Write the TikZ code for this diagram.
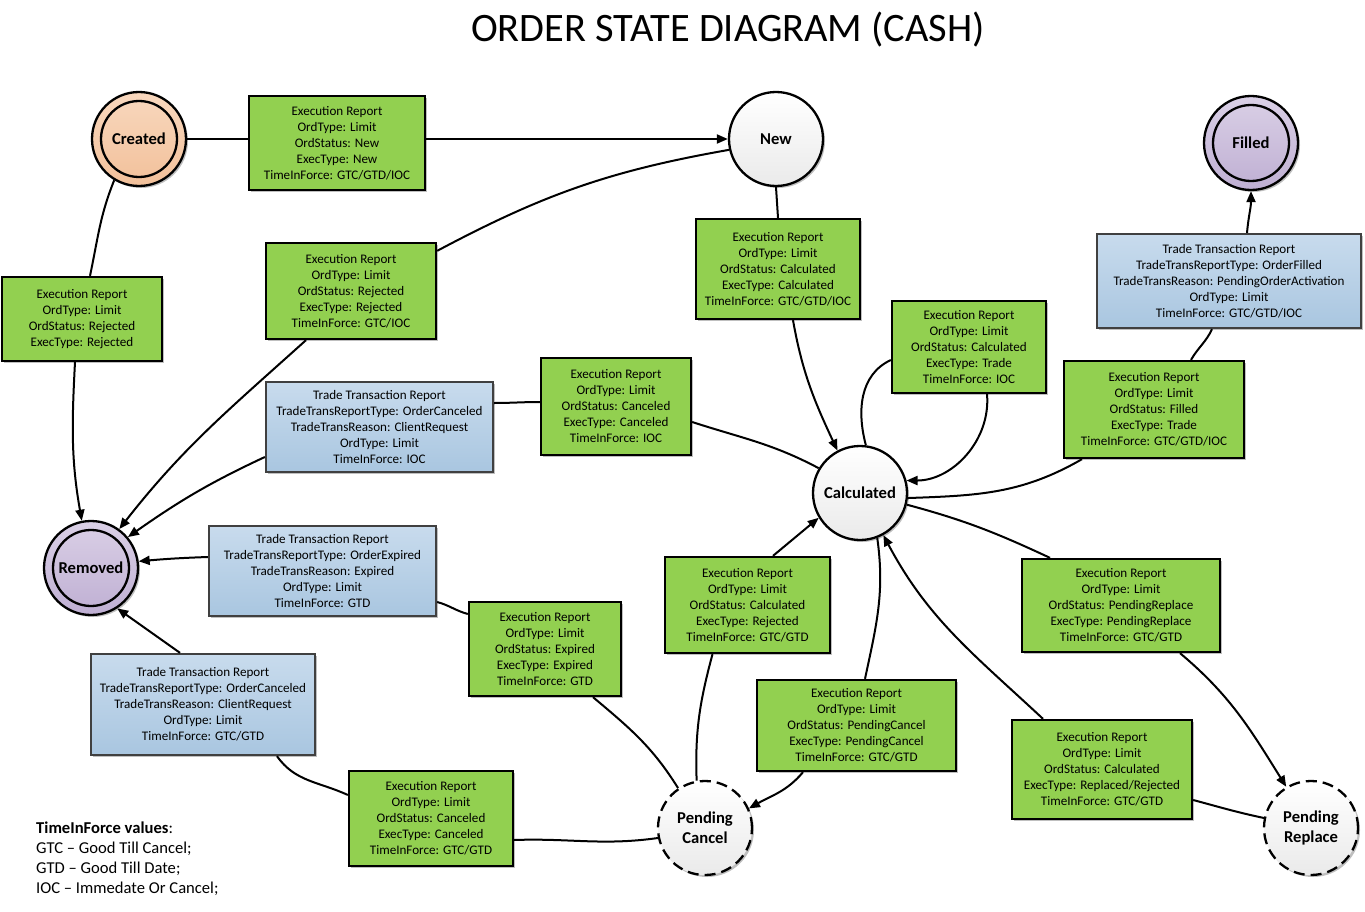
\documentclass[tikz,border=0pt]{standalone}
\usepackage{fontspec}
\setmainfont{Carlito}
\usetikzlibrary{arrows.meta,shadows}
\definecolor{grn}{HTML}{92D050}
\definecolor{bluetop}{HTML}{C8DBED}
\definecolor{bluebot}{HTML}{A9C6E0}
\definecolor{bborder}{HTML}{404040}
\definecolor{peachtop}{HTML}{F8D8BE}
\definecolor{peachbot}{HTML}{F2C09A}
\definecolor{purtop}{HTML}{DAD0E6}
\definecolor{purbot}{HTML}{BFAFD3}
\definecolor{graybot}{HTML}{EAEAEA}
\tikzset{
  shad/.style={drop shadow={shadow xshift=2pt,shadow yshift=-2pt,opacity=0.25,fill=black}},
  erbox/.style={draw=black,line width=2.3pt,fill=grn,font=\fontsize{13.1}{16}\selectfont,align=center,inner sep=0pt,shad},
  ttrbox/.style={draw=bborder,line width=2.3pt,top color=bluetop,bottom color=bluebot,font=\fontsize{13.1}{16}\selectfont,align=center,inner sep=0pt,shad},
  sz/.style 2 args={minimum width=#1pt,minimum height=#2pt},
  state/.style={circle,draw=black,line width=2.3pt,minimum size=94pt,inner sep=0pt,align=center,font=\fontsize{16.6}{20}\selectfont\bfseries,shad},
  whitest/.style={state,top color=white,bottom color=graybot},
  peachst/.style={state,top color=peachtop,bottom color=peachbot},
  purst/.style={state,top color=purtop,bottom color=purbot},
  pendst/.style={whitest,dashed,dash pattern=on 11pt off 6pt},
  con/.style={line width=2pt},
  arr/.style={con,-{Triangle[length=11pt,width=9pt]}},
}
\begin{document}
\begin{tikzpicture}[x=1pt,y=-1pt]
\useasboundingbox (0,0) rectangle (1365,912);
\node (title) at (728,30) {\fontsize{40.4}{44}\selectfont ORDER STATE DIAGRAM (CASH)};

% states
\node[peachst] (created) at (139,139) {Created};
\node[whitest] (new) at (776,139) {New};
\node[purst] (filled) at (1251,143) {Filled};
\node[purst] (removed) at (91,568) {Removed};
\node[whitest] (calc) at (860,493) {Calculated};
\node[pendst] (pcancel) at (705,828) {Pending\\Cancel};
\node[pendst] (preplace) at (1311,828) {Pending\\Replace};
\draw[line width=2.3pt] (created.center) circle[radius=38pt];
\draw[line width=2.3pt] (filled.center) circle[radius=38pt];
\draw[line width=2.3pt] (removed.center) circle[radius=38pt];

% boxes
\node[erbox,sz={176}{94}] (ernew) at (337,143) {Execution Report\\OrdType: Limit\\OrdStatus: New\\ExecType: New\\TimeInForce: GTC/GTD/IOC};
\node[erbox,sz={160}{84}] (errej1) at (82,319) {Execution Report\\OrdType: Limit\\OrdStatus: Rejected\\ExecType: Rejected};
\node[erbox,sz={170}{96}] (errej2) at (351,291) {Execution Report\\OrdType: Limit\\OrdStatus: Rejected\\ExecType: Rejected\\TimeInForce: GTC/IOC};
\node[erbox,sz={164}{100}] (ercalc) at (778,269) {Execution Report\\OrdType: Limit\\OrdStatus: Calculated\\ExecType: Calculated\\TimeInForce: GTC/GTD/IOC};
\node[erbox,sz={154}{92}] (ertrade) at (969,347) {Execution Report\\OrdType: Limit\\OrdStatus: Calculated\\ExecType: Trade\\TimeInForce: IOC};
\node[ttrbox,sz={264}{94}] (ttrfilled) at (1229,281) {Trade Transaction Report\\TradeTransReportType: OrderFilled\\TradeTransReason: PendingOrderActivation\\OrdType: Limit\\TimeInForce: GTC/GTD/IOC};
\node[erbox,sz={180}{97}] (erfilled) at (1154,409.5) {Execution Report\\OrdType: Limit\\OrdStatus: Filled\\ExecType: Trade\\TimeInForce: GTC/GTD/IOC};
\node[ttrbox,sz={227}{90}] (ttrcanioc) at (379.5,427) {Trade Transaction Report\\TradeTransReportType: OrderCanceled\\TradeTransReason: ClientRequest\\OrdType: Limit\\TimeInForce: IOC};
\node[erbox,sz={150}{97}] (ercanioc) at (616,406.5) {Execution Report\\OrdType: Limit\\OrdStatus: Canceled\\ExecType: Canceled\\TimeInForce: IOC};
\node[ttrbox,sz={227}{90}] (ttrexp) at (322.5,571) {Trade Transaction Report\\TradeTransReportType: OrderExpired\\TradeTransReason: Expired\\OrdType: Limit\\TimeInForce: GTD};
\node[erbox,sz={152}{94}] (erexp) at (545,649) {Execution Report\\OrdType: Limit\\OrdStatus: Expired\\ExecType: Expired\\TimeInForce: GTD};
\node[erbox,sz={165}{96}] (ercalcrej) at (747.5,605) {Execution Report\\OrdType: Limit\\OrdStatus: Calculated\\ExecType: Rejected\\TimeInForce: GTC/GTD};
\node[erbox,sz={198}{93}] (erprep) at (1121,605.5) {Execution Report\\OrdType: Limit\\OrdStatus: PendingReplace\\ExecType: PendingReplace\\TimeInForce: GTC/GTD};
\node[ttrbox,sz={224}{101}] (ttrcangtc) at (203,704.5) {Trade Transaction Report\\TradeTransReportType: OrderCanceled\\TradeTransReason: ClientRequest\\OrdType: Limit\\TimeInForce: GTC/GTD};
\node[erbox,sz={199}{91}] (erpcan) at (856.5,725.5) {Execution Report\\OrdType: Limit\\OrdStatus: PendingCancel\\ExecType: PendingCancel\\TimeInForce: GTC/GTD};
\node[erbox,sz={180}{99}] (errepl) at (1102,769.5) {Execution Report\\OrdType: Limit\\OrdStatus: Calculated\\ExecType: Replaced/Rejected\\TimeInForce: GTC/GTD};
\node[erbox,sz={164}{95}] (ercangtc) at (431,818.5) {Execution Report\\OrdType: Limit\\OrdStatus: Canceled\\ExecType: Canceled\\TimeInForce: GTC/GTD};

% legend
\node[anchor=north west,align=left,inner sep=0pt,font=\fontsize{16.6}{20}\selectfont] (legend) at (36,822)
  {\textbf{TimeInForce values}:\\GTC -- Good Till Cancel;\\GTD -- Good Till Date;\\IOC -- Immedate Or Cancel;};

% connectors
\draw[con] (created.east) -- (created.east -| ernew.west);
\draw[arr] (ernew.east |- created.east) -- (new.west);
\draw[con] (created.239) to[out=-112,in=78] ([xshift=8pt]errej1.north);
\draw[arr] ([xshift=-7pt]errej1.south) to[out=-93,in=100] (removed.101);
\draw[con] (new.193) to[out=190,in=28] ([yshift=-9pt]errej2.north east);
\draw[arr] ([xshift=-45pt]errej2.south) to[out=-138,in=52] (removed.54);
\draw[con] (new.south) -- (ercalc.north);
\draw[arr] ([xshift=15pt]ercalc.south) to[out=-80,in=115] (calc.118);
\draw[con] (calc.83) to[out=105,in=205] ([yshift=-13pt]ertrade.west);
\draw[arr] ([xshift=18pt]ertrade.south) to[out=-85,in=0] (calc.15);
\draw[con] (calc.-6) to[out=2,in=-150] ([xshift=-72pt]erfilled.south);
\draw[con] ([xshift=37pt]erfilled.north) to[out=60,in=-115] ([xshift=-17pt]ttrfilled.south);
\draw[arr] ([xshift=18pt]ttrfilled.north) to[out=85,in=-90] (filled.south);
\draw[con] (calc.149) to[out=152,in=-18] ([yshift=-15.5pt]ercanioc.east);
\draw[con] ([yshift=4.5pt]ercanioc.west) to[out=180,in=0] ([yshift=24pt]ttrcanioc.east);
\draw[arr] ([yshift=-30pt]ttrcanioc.west) to[out=-155,in=35] (removed.40);
\draw[arr] ([xshift=25.5pt]ercalcrej.north) -- (calc.211);
\draw[con] (pcancel.100) to[out=92,in=-105] ([xshift=-35pt]ercalcrej.south);
\draw[con] (calc.-69) to[out=-82,in=78] ([xshift=8.5pt]erpcan.north);
\draw[arr] ([xshift=-53.5pt]erpcan.south) to[out=-130,in=30] (pcancel.24);
\draw[con] (pcancel.124) to[out=122,in=-40] ([xshift=48pt]erexp.south);
\draw[con] ([yshift=35pt]erexp.west) to[out=165,in=-15] ([yshift=-31pt]ttrexp.east);
\draw[arr] ([yshift=14pt]ttrexp.west) to[out=182,in=5] (removed.8);
\draw[con] (pcancel.192) to[out=188,in=2] ([yshift=-21.5pt]ercangtc.east);
\draw[con] ([yshift=23.5pt]ercangtc.west) to[out=155,in=-55] ([xshift=74pt]ttrcangtc.south);
\draw[arr] ([xshift=-23pt]ttrcangtc.north) -- (removed.-57);
\draw[con] (calc.-14) to[out=-15,in=155] ([xshift=-71pt]erprep.north);
\draw[arr] ([xshift=59pt]erprep.south) to[out=-40,in=122] (preplace.121);
\draw[con] (preplace.168) to[out=168,in=-15] ([yshift=-30.5pt]errepl.east);
\draw[arr] ([xshift=-59pt]errepl.north) to[out=137,in=-62] (calc.-61);
\end{tikzpicture}
\end{document}
